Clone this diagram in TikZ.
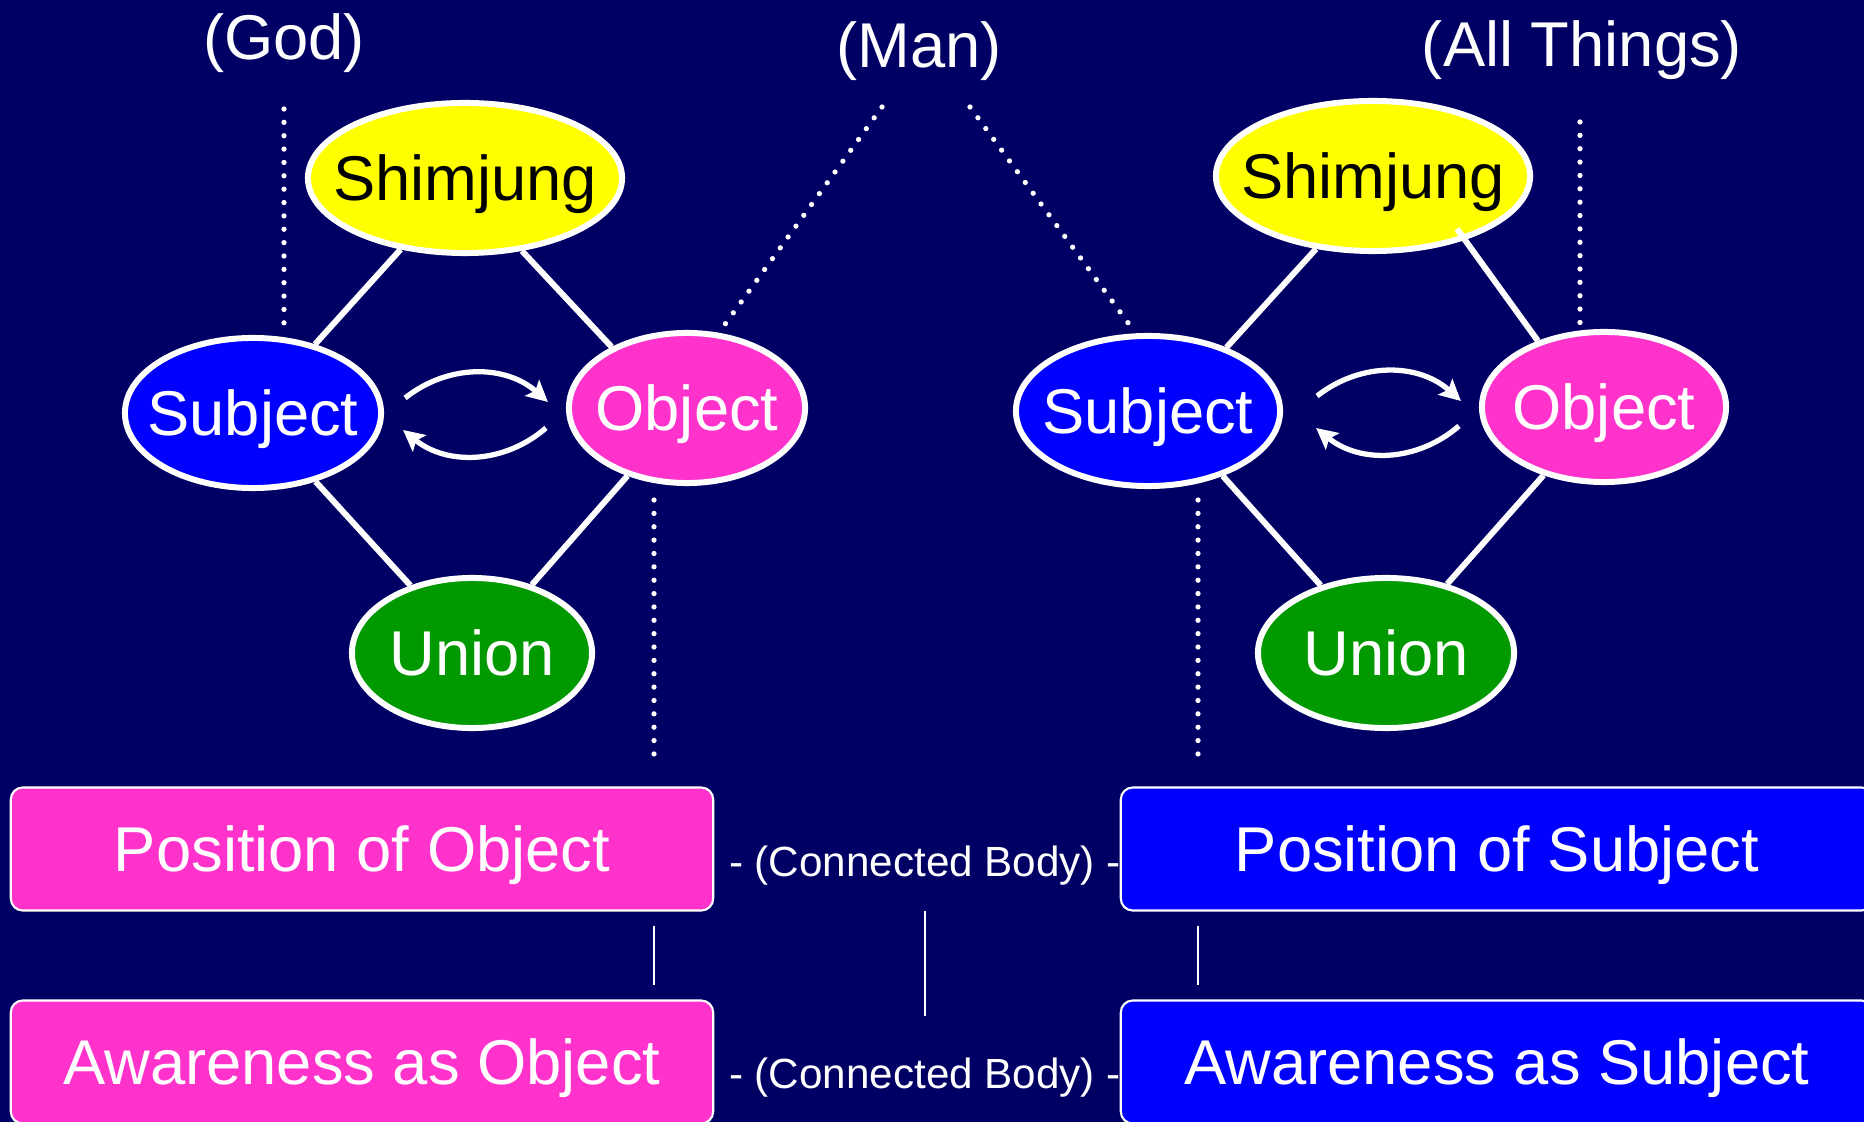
\documentclass[tikz,border=0pt]{standalone}
\usepackage{fontspec}
\setmainfont{Liberation Sans}
\usetikzlibrary{shapes.geometric,arrows.meta}
\definecolor{navy}{RGB}{0,0,100}
\definecolor{shimyellow}{RGB}{255,255,0}
\definecolor{subjblue}{RGB}{0,0,255}
\definecolor{objpink}{RGB}{255,51,204}
\definecolor{uniongreen}{RGB}{0,153,0}
\tikzset{
  bubble/.style={ellipse,draw=white,line width=1.7pt,inner xsep=-0.5cm,inner ysep=0pt,
    minimum height=1.5cm,text height=13pt,text depth=0pt,text=white,
    font=\fontsize{18}{22}\selectfont},
  panel/.style={rectangle,rounded corners=0.12cm,draw=white,line width=0.6pt,
    minimum height=1.23cm,text height=13pt,text depth=0pt,text=white,
    font=\fontsize{18}{22}\selectfont},
  heading/.style={text=white,text height=13pt,text depth=0pt,font=\fontsize{18}{22}\selectfont},
  joint/.style={text=white,text height=8.6pt,text depth=0pt,font=\fontsize{12}{14}\selectfont},
  link/.style={white,line width=1.7pt},
  swap/.style={white,line width=1.5pt,-{Stealth[length=6pt,width=6pt,inset=1.2pt]}},
  dots/.style={white,line width=1.5pt,line cap=round,dash pattern=on 0pt off 3.8pt},
  thinline/.style={white,line width=0.6pt}
}
\begin{document}
\begin{tikzpicture}[x=0.01cm,y=-0.01cm]
\useasboundingbox (0,0) rectangle (1864,1122);
\fill[navy] (0,0) rectangle (1864,1122);

% headings
\node[heading] (god) at (284,37) {(God)};
\node[heading] (man) at (919,45) {(Man)};
\node[heading] (things) at (1582,44) {(All Things)};

% left quadruple
\node[bubble,fill=shimyellow,text=black,minimum width=3.14cm] (lshim) at (465,178) {Shimjung};
\node[bubble,fill=subjblue,minimum width=2.56cm] (lsubj) at (253,413) {Subject};
\node[bubble,fill=objpink,minimum width=2.36cm] (lobj) at (687,408) {Object};
\node[bubble,fill=uniongreen,minimum width=2.40cm] (lunion) at (472,653) {Union};

% right quadruple
\node[bubble,fill=shimyellow,text=black,minimum width=3.14cm] (rshim) at (1373,176) {Shimjung};
\node[bubble,fill=subjblue,minimum width=2.64cm] (rsubj) at (1148,411) {Subject};
\node[bubble,fill=objpink,minimum width=2.44cm] (robj) at (1604,407) {Object};
\node[bubble,fill=uniongreen,minimum width=2.56cm] (runion) at (1386,653) {Union};

\draw[link] (lshim) -- (lsubj);
\draw[link] (lshim.-52) -- (lobj.141);
\draw[link] (lsubj) -- (lunion);
\draw[link] (lobj) -- (lunion);
\draw[link] (rshim.232) -- (rsubj.39);
\draw[link] ([shift={(84,53)}]rshim.center) -- (robj.135);
\draw[link] (rsubj.-41) -- (runion.134);
\draw[link] (robj) -- (runion);

\draw[swap] ([shift={(21,-15)}]lsubj.east) to[bend left=40] ([shift={(-18,-6)}]lobj.west);
\draw[swap] ([shift={(-20,20)}]lobj.west) to[bend left=40] ([shift={(19,17)}]lsubj.east);
\draw[swap] ([shift={(34,-15)}]rsubj.east) to[bend left=40] ([shift={(-18,-6)}]robj.west);
\draw[swap] ([shift={(-20,19)}]robj.west) to[bend left=40] ([shift={(33,17)}]rsubj.east);

% boxes
\node[panel,fill=objpink,minimum width=7.02cm] (posobj) at (362,849) {Position of Object};
\node[panel,fill=objpink,minimum width=7.02cm] (awobj) at (362,1062) {Awareness as Object};
\node[panel,fill=subjblue,minimum width=7.52cm] (possubj) at (1497,849) {Position of Subject};
\node[panel,fill=subjblue,minimum width=7.52cm] (awsubj) at (1497,1062) {Awareness as Subject};
\node[joint] (cbtop) at (925,861) {- (Connected Body) -};
\node[joint] (cbbot) at (925,1073) {- (Connected Body) -};

% dotted guides
\coordinate (godfoot) at (284,109);
\coordinate (manleft) at (882,107);
\coordinate (manright) at (970,107);
\coordinate (thingsfoot) at (1580,122);
\coordinate (ldrop) at (654,767);
\coordinate (rdrop) at (1198,767);
\draw[dots,shorten >=0.08cm] (godfoot) -- (godfoot |- lsubj.north);
\draw[dots] (manleft) -- (lobj.67);
\draw[dots] (manright) -- (rsubj.99);
\draw[dots] (thingsfoot) -- (thingsfoot |- robj.north);
\draw[dots,shorten <=0.14cm] (lobj.south -| ldrop) -- (ldrop);
\draw[dots,shorten <=0.11cm] (rsubj.south -| rdrop) -- (rdrop);

\draw[thinline,shorten <=0.14cm,shorten >=0.14cm] (posobj.south -| ldrop) -- (awobj.north -| ldrop);
\draw[thinline,shorten <=0.14cm,shorten >=0.14cm] (possubj.south -| rdrop) -- (awsubj.north -| rdrop);
\draw[thinline,shorten <=0.5cm,shorten >=0.57cm] (cbtop.center) -- (cbbot.center);
\end{tikzpicture}
\end{document}
